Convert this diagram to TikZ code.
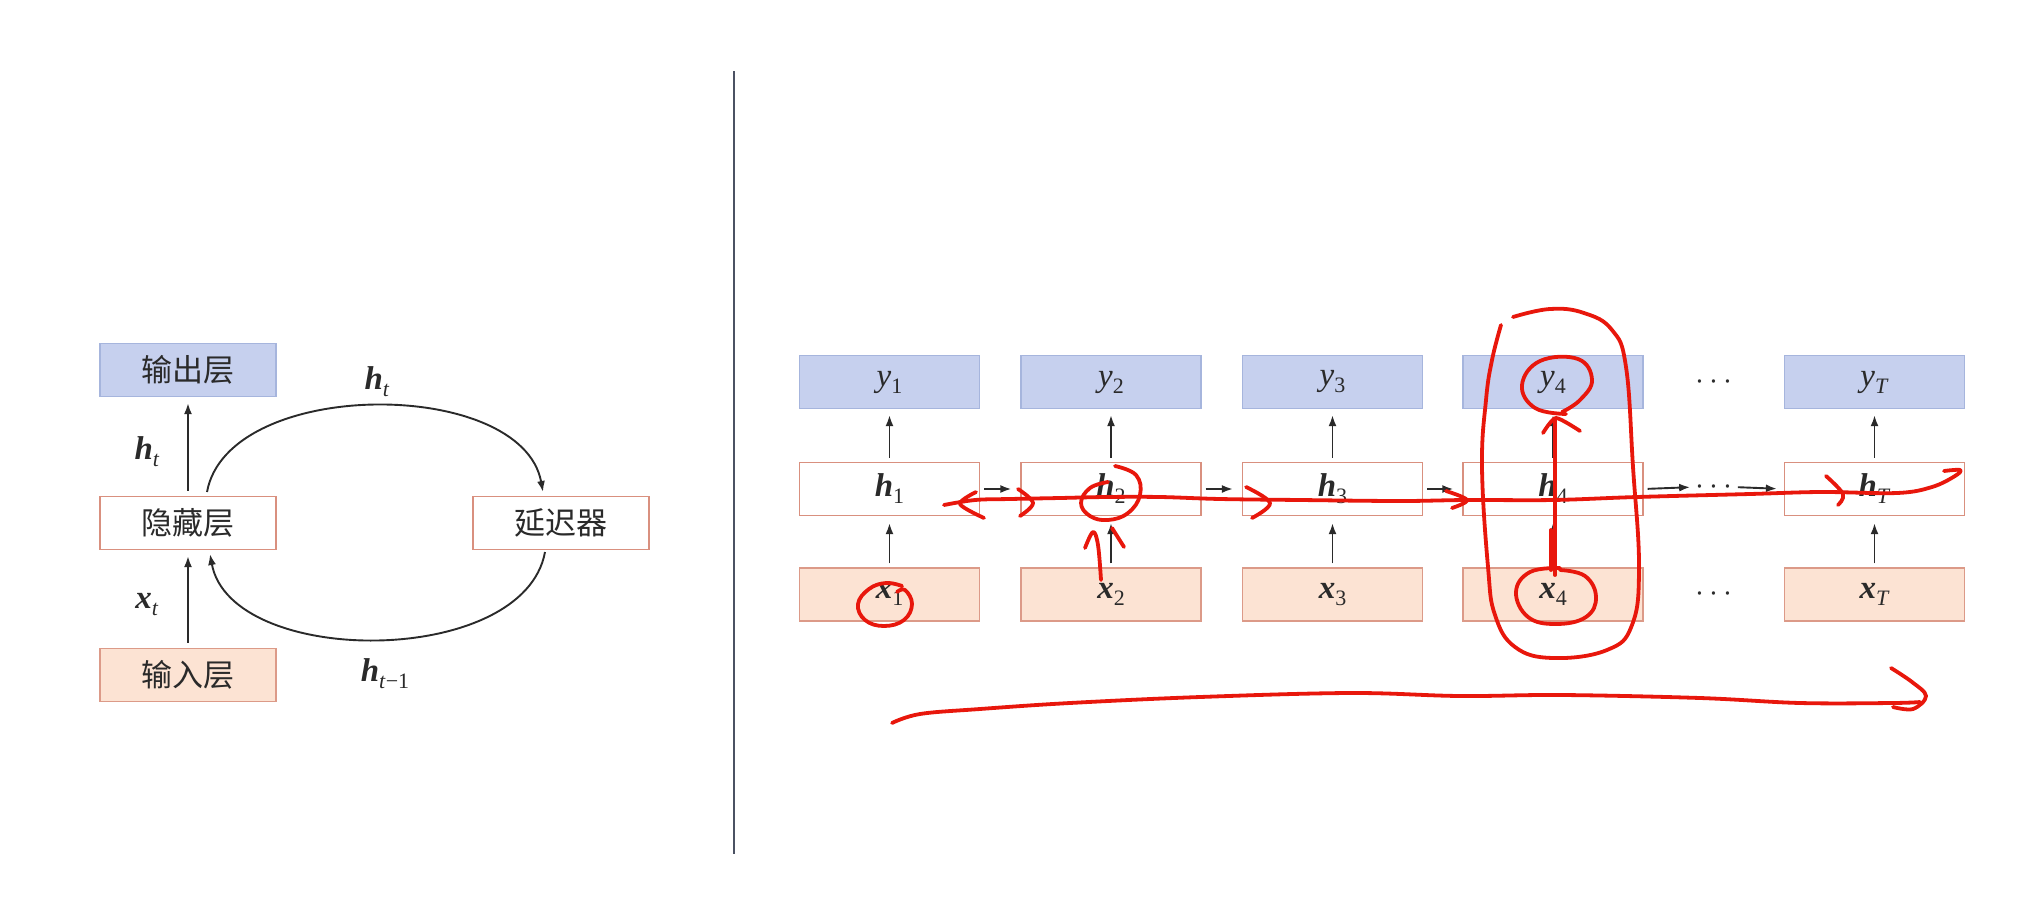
\RequirePackage{fix-cm}
\documentclass[tikz,border=0pt]{standalone}
\usepackage{fontspec}
\usetikzlibrary{arrows.meta}
\newfontfamily\cjk{Noto Sans CJK SC}
\newfontfamily\tms{Liberation Serif}
\definecolor{bfill}{HTML}{C6D0EE}
\definecolor{bdraw}{HTML}{A6B5DD}
\definecolor{ofill}{HTML}{FCE3D3}
\definecolor{odraw}{HTML}{DC9A88}
\definecolor{hdraw}{HTML}{D9907F}
\definecolor{txt}{HTML}{2A2A2A}
\definecolor{divc}{HTML}{4B5263}
\definecolor{pen}{HTML}{E8170C}
\newcommand{\bsub}[2]{{\fontsize{33}{33}\selectfont\tms\bfseries\itshape #1}\raisebox{-7pt}{\fontsize{22}{22}\selectfont\tms #2}}
\newcommand{\rsub}[2]{{\fontsize{33}{33}\selectfont\tms\itshape #1}\raisebox{-7pt}{\fontsize{22}{22}\selectfont\tms #2}}
\newcommand{\cn}[1]{{\fontsize{31}{31}\selectfont\cjk #1}}
\newcommand{\dts}{{\fontsize{32}{32}\selectfont$\cdots$}}
\tikzset{
  box/.style={draw, line width=1.3pt, minimum height=53pt, inner sep=0pt, text=txt},
  lbox/.style={box, minimum width=176pt},
  rbox/.style={box, minimum width=180pt},
  outb/.style={fill=bfill, draw=bdraw},
  inb/.style={fill=ofill, draw=odraw},
  hidb/.style={fill=white, draw=hdraw},
  arr/.style={-{Latex[length=11pt,width=8pt]}, line width=1.9pt, draw=txt},
  lab/.style={text=txt, inner sep=0pt},
  redpen/.style={draw=pen, line width=3.8pt, line cap=round, line join=round},
}
\begin{document}
\begin{tikzpicture}[x=1pt,y=-1pt]
\useasboundingbox (0,0) rectangle (2024,902);
% ---------- left panel ----------
\node[lbox,outb] (out) at (188,370) {\cn{输出层}};
\node[lbox,hidb] (hid) at (188,523) {\cn{隐藏层}};
\node[lbox,inb]  (inp) at (188,675) {\cn{输入层}};
\node[lbox,hidb] (del) at (561,523) {\cn{延迟器}};
\draw[arr, shorten <=5pt, shorten >=6pt] (hid.north) -- (out.south);
\draw[arr, shorten <=5pt, shorten >=6pt] (inp.north) -- (hid.south);
\node[lab] (lht) at (147,452) {\bsub{h}{\textit{t}}};
\node[lab] (lxt) at (147,605) {\bsub{x}{\textit{t}}};
\coordinate (a1) at (207,492);
\coordinate (a2) at (543,492);
\coordinate (b1) at (545,552);
\coordinate (b2) at (210,554);
\draw[arr] (a1) .. controls (228,377) and (522,377) .. (a2);
\draw[arr] (b1) .. controls (524,668) and (231,668) .. (b2);
\node[lab] (tht) at (377,382) {\bsub{h}{\textit{t}}};
\node[lab] (thm) at (385,674) {\bsub{h}{\textit{t}−1}};
% divider
\coordinate (d1) at (734,71);
\coordinate (d2) at (734,854);
\draw[divc, line width=2.6pt] (d1) -- (d2);
% ---------- right panel ----------
\foreach \i/\x/\s in {1/889.5/1,2/1111/2,3/1332.5/3,4/1553/4,T/1874.5/\textit{T}}{
  \node[rbox,outb] (y\i) at (\x,382) {\rsub{y}{\s}};
  \node[rbox,hidb] (h\i) at (\x,489) {\bsub{h}{\s}};
  \node[rbox,inb]  (x\i) at (\x,594.5) {\bsub{x}{\s}};
  \draw[arr, shorten <=4pt, shorten >=6pt] (h\i.north) -- (y\i.south);
  \draw[arr, shorten <=4pt, shorten >=7pt] (x\i.north) -- (h\i.south);
}
\node[lab] (ydots) at (1714,382) {\dts};
\node[lab] (hdots) at (1714,487) {\dts};
\node[lab] (xdots) at (1714,594) {\dts};
\foreach \a/\b in {1/2,2/3,3/4}{
  \draw[arr, shorten <=4pt, shorten >=9pt] (h\a.east) -- (h\b.west);
}
\draw[arr, shorten <=4pt, shorten >=5pt] (h4.east) -- (hdots.west);
\draw[arr, shorten <=5pt, shorten >=7pt] (hdots.east) -- (hT.west);
% ---------- red annotations ----------
% long line through hidden row
\draw[redpen] plot[smooth, tension=0.6] coordinates {(944,505) (975,500) (1010,499) (1060,498) (1106,497) (1160,497) (1220,499) (1300,500) (1400,501) (1467,500) (1553,500) (1637,497) (1750,494) (1821,492) (1897,493) (1932,487) (1955,476) (1960,470) (1944,471)};
\draw[redpen] plot[smooth, tension=0.5] coordinates {(976,492) (960,504) (984,518)};
\draw[redpen] plot[smooth, tension=0.6] coordinates {(1018,489) (1033,503) (1020,516)};
\draw[redpen] plot[smooth, tension=0.6] coordinates {(1246,487) (1270,503) (1252,518)};
\draw[redpen] plot[smooth, tension=0.6] coordinates {(1446,491) (1467,500) (1452,508)};
\draw[redpen] plot[smooth, tension=0.6] coordinates {(1826,476) (1843,494) (1838,505)};
% x1 circle
\draw[redpen] plot[smooth, tension=0.7] coordinates {(902,586) (886,583) (869,589) (858,604) (865,620) (884,626) (904,620) (912,604) (905,590) (897,592)};
% h2 circle and marks
\draw[redpen] plot[smooth, tension=0.7] coordinates {(1108,482) (1090,488) (1081,503) (1090,516) (1108,520) (1128,513) (1140,495) (1136,475) (1115,466)};
\draw[redpen] plot[smooth, tension=0.6] coordinates {(1085,548) (1093,532) (1098,545) (1101,580)};
\draw[redpen] (1112,528) -- (1124,547);
% column 4 big loop
\draw[redpen] plot[smooth, tension=0.7] coordinates {(1513,317) (1550,309) (1584,313) (1612,330) (1626,367) (1633,467) (1639,567) (1632,625) (1607,650) (1553,658) (1515,647) (1495,615) (1488,567) (1482,467) (1486,400) (1492,360) (1501,325)};
% y4 circle
\draw[redpen] plot[smooth, tension=0.7] coordinates {(1566,414) (1535,408) (1522,385) (1540,361) (1578,359) (1592,380) (1580,400) (1562,412)};
% vertical arrow x4 -> y4
\draw[redpen] (1555,575) -- (1555,420);
\draw[redpen] (1551,570) -- (1551,530);
\draw[redpen] plot[smooth, tension=0.4] coordinates {(1543,433) (1556,418) (1580,431)};
% x4 circle
\draw[redpen] plot[smooth, tension=0.7] coordinates {(1560,568) (1530,572) (1516,592) (1528,617) (1556,624) (1586,617) (1596,597) (1585,576) (1560,570)};
% bottom long arrow
\draw[redpen] plot[smooth, tension=0.6] coordinates {(892,723) (920,714) (980,709) (1070,703) (1200,697) (1351,693) (1460,696) (1562,695) (1700,698) (1800,703) (1892,703) (1920,702)};
\draw[redpen] plot[smooth, tension=0.6] coordinates {(1891,668) (1912,682) (1926,696) (1913,709) (1893,707)};
\end{tikzpicture}
\end{document}
